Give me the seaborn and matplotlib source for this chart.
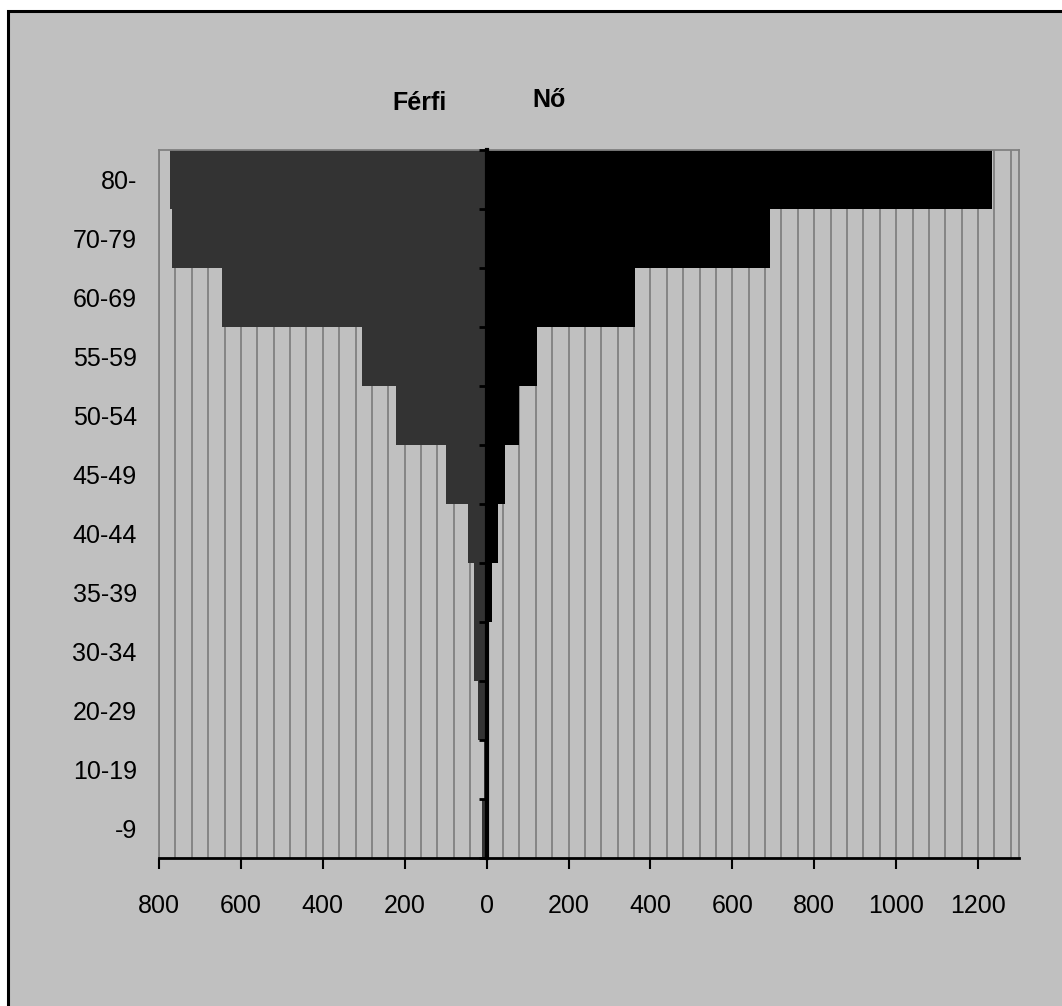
import pandas as pd
import matplotlib.pyplot as plt
import seaborn as sns
from matplotlib.patches import Rectangle
from matplotlib.ticker import MultipleLocator, FuncFormatter

# Data (top row first)
age_groups = ['80-', '70-79', '60-69', '55-59', '50-54', '45-49',
              '40-44', '35-39', '30-34', '20-29', '10-19', '-9']
male = [773, 768, 646, 305, 222, 100, 46, 32, 32, 22, 7, 12]
female = [1234, 693, 363, 122, 80, 46, 27, 12, 3, 1, 1, 1]
sex_labels = ['Férfi', 'Nő']

sns.set_style("white")
plt.rcParams['font.family'] = ['Liberation Sans', 'DejaVu Sans']
plt.rcParams['text.color'] = 'black'
plt.rcParams['xtick.color'] = 'black'
plt.rcParams['ytick.color'] = 'black'

df = pd.DataFrame({
    'age': age_groups * 2,
    'value': [-v for v in male] + female,
    'sex': [sex_labels[0]] * len(male) + [sex_labels[1]] * len(female),
})

W, H = 1062, 1006
fig = plt.figure(figsize=(W / 100, H / 100), dpi=100, facecolor='white')

# chart area frame (only left/top edges visible in the reference)
fig.patches.append(Rectangle((8 / W, -0.1), 1.2, 1 - 11 / H + 0.1,
                             transform=fig.transFigure, facecolor='#c0c0c0',
                             edgecolor='black', linewidth=2.2, zorder=-5))

ax = fig.add_axes([159 / W, 1 - 858 / H, (1019 - 159) / W, (858 - 150) / H])
ax.set_facecolor('#c0c0c0')

sns.barplot(data=df, y='age', x='value', hue='sex', order=age_groups,
            hue_order=sex_labels, palette={'Férfi': '#333333', 'Nő': '#000000'},
            dodge=False, width=1.0, linewidth=0, orient='h', legend=False,
            ax=ax, zorder=2)

ax.set_xlim(-800, 1300)
ax.set_ylim(len(age_groups) - 0.5, -0.5)
ax.set_xlabel('')
ax.set_ylabel('')

# grid every 40 units
ax.xaxis.set_major_locator(MultipleLocator(200))
ax.xaxis.set_minor_locator(MultipleLocator(40))
ax.xaxis.set_major_formatter(FuncFormatter(lambda v, p: f'{abs(v):.0f}'))
ax.grid(which='both', axis='x', color='#808080', linewidth=1.3)
ax.grid(False, axis='y')
ax.set_axisbelow(True)

ax.tick_params(axis='x', which='major', direction='out', length=8, width=1.5,
               color='black', labelsize=18, pad=18, bottom=True)
ax.tick_params(axis='x', which='minor', length=0)
ax.tick_params(axis='y', length=0, labelsize=18, pad=16)

for side in ['left', 'top', 'right']:
    ax.spines[side].set_color('#808080')
    ax.spines[side].set_linewidth(1.3)
ax.spines['bottom'].set_color('black')
ax.spines['bottom'].set_linewidth(2)

# central axis at zero with ticks at the category boundaries
center = ax.secondary_yaxis(800 / 2100)
center.set_zorder(5)
center.set_yticks([i - 0.5 for i in range(len(age_groups) + 1)])
center.tick_params(direction='out', length=6, width=2, color='black',
                   labelleft=False, labelright=False)
center.spines['left'].set_linewidth(3)
center.spines['left'].set_color('black')
center.spines['right'].set_visible(False)

title_font = ['Liberation Sans Narrow', 'Liberation Sans', 'DejaVu Sans']
fig.text(419 / W, 1 - 103 / H, sex_labels[0], ha='center', va='center',
         fontsize=18, fontweight='bold', family=title_font)
fig.text(549 / W, 1 - 100 / H, sex_labels[1], ha='center', va='center',
         fontsize=18, fontweight='bold', family=title_font)

plt.savefig('out.png', dpi=100, facecolor=fig.get_facecolor())
